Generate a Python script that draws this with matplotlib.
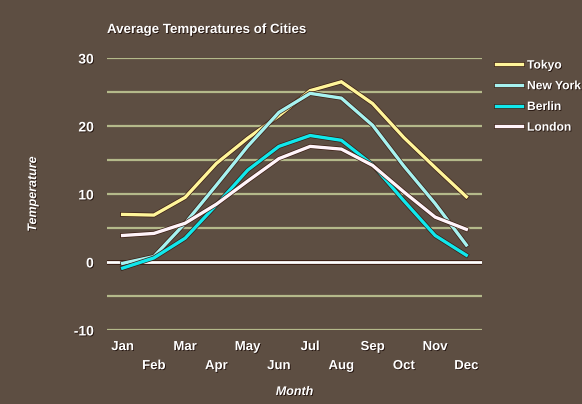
import matplotlib
matplotlib.use("Agg")
import matplotlib.pyplot as plt
import matplotlib.patheffects as pe

# chart data
months = ['Jan', 'Feb', 'Mar', 'Apr', 'May', 'Jun',
          'Jul', 'Aug', 'Sep', 'Oct', 'Nov', 'Dec']
tokyo = [7.0, 6.9, 9.5, 14.5, 18.2, 21.5, 25.2, 26.5, 23.3, 18.3, 13.9, 9.6]
new_york = [-0.2, 0.8, 5.7, 11.3, 17.0, 22.0, 24.8, 24.1, 20.1, 14.1, 8.6, 2.5]
berlin = [-0.9, 0.6, 3.5, 8.4, 13.5, 17.0, 18.6, 17.9, 14.3, 9.0, 3.9, 1.0]
london = [3.9, 4.2, 5.7, 8.5, 11.9, 15.2, 17.0, 16.6, 14.2, 10.3, 6.6, 4.8]
y_ticks = [-10, 0, 10, 20, 30]

bg = '#5d4e42'
plt.rcParams['font.family'] = ['Liberation Sans', 'DejaVu Sans']
plt.rcParams['font.weight'] = 'bold'

fig = plt.figure(figsize=(5.82, 4.04), dpi=100, facecolor=bg)
ax = fig.add_axes([107 / 582, 1 - 330 / 404, 375 / 582, 272 / 404])
ax.set_facecolor(bg)

txt_fx = [pe.withSimplePatchShadow(offset=(0.6, -0.6), shadow_rgbFace='#1a0a05', alpha=0.9)]
line_fx = [pe.Stroke(linewidth=3.4, foreground='#3a1c12'), pe.Normal()]

# grid lines
for v in range(-10, 31, 5):
    if v != 0:
        ax.axhline(v, color='#b4b98a', lw=1.6, zorder=1)
ax.axhline(0, color='white', lw=2.0, zorder=2, path_effects=line_fx)

x = list(range(len(months)))
series = [('Tokyo', tokyo, '#fff59a'),
          ('New York', new_york, '#a6f2f0'),
          ('Berlin', berlin, '#10e8ec'),
          ('London', london, '#fff4fa')]
for name, vals, col in series:
    ax.plot(x, vals, color=col, lw=2.4, label=name, zorder=3,
            path_effects=line_fx, solid_joinstyle='miter')

ax.set_xlim(-0.5, 11.5)
ax.set_ylim(-10, 30)
for s in ax.spines.values():
    s.set_visible(False)

ax.set_yticks(y_ticks)
ax.set_yticklabels([str(t) for t in y_ticks])
ax.tick_params(axis='y', length=0, pad=9.5, labelsize=10, labelcolor='white')
ax.set_xticks(x)
ax.set_xticklabels(months)
ax.tick_params(axis='x', length=0, pad=8, labelsize=9.5, labelcolor='white')
for i, lbl in enumerate(ax.get_xticklabels()):
    lbl.set_path_effects(txt_fx)
    if i % 2 == 1:
        lbl.set_y(-0.07)
for lbl in ax.get_yticklabels():
    lbl.set_path_effects(txt_fx)

ax.set_xlabel('Month', color='white', fontsize=9, style='italic',
              fontweight='bold', path_effects=txt_fx)
ax.xaxis.set_label_coords(0.5, -0.228)
ax.xaxis.label.set_va('center')
ax.set_ylabel('Temperature', color='white', fontsize=9, style='italic',
              fontweight='bold', path_effects=txt_fx)
ax.yaxis.set_label_coords(-0.197, 0.5)
ax.yaxis.label.set_va('center')

fig.text(107 / 582, 1 - 30 / 404, 'Average Temperatures of Cities', color='white',
         fontsize=9.6, fontweight='bold', va='center', path_effects=txt_fx)

leg = ax.legend(loc='upper left', bbox_to_anchor=(1.025, 1.012), frameon=False,
                fontsize=8.7, labelcolor='white', handlelength=2.1,
                handletextpad=0.45, labelspacing=0.72, borderaxespad=0)
for t in leg.get_texts():
    t.set_path_effects(txt_fx)

fig.savefig('out.png', dpi=100, facecolor=bg)
